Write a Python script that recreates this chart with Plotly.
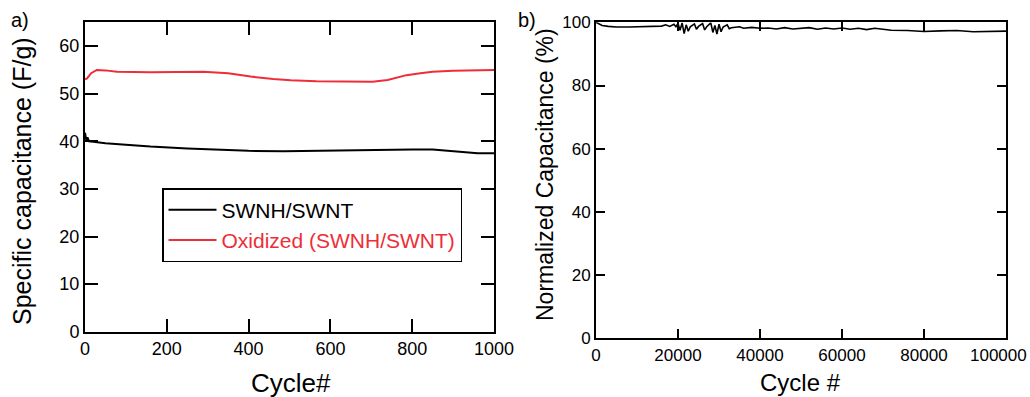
import plotly.graph_objects as go

# Panel a) specific capacitance vs cycle
cycles_a_black = [0, 3, 6, 10, 20, 50, 100, 160, 250, 320, 400, 486, 550, 650, 700, 800, 850, 880, 920, 960, 1000]
cap_swnh = [41.8, 40.3, 40.8, 40.0, 39.9, 39.6, 39.3, 38.9, 38.5, 38.2, 38.0, 37.9, 38.0, 38.2, 38.3, 38.3, 38.3, 38.1, 37.7, 37.5, 37.5]

cycles_a_red = [0, 5, 15, 29, 50, 78, 160, 290, 350, 405, 460, 503, 566, 650, 703, 740, 786, 820, 850, 900, 1000]
cap_oxidized = [53.0, 53.2, 54.3, 55.0, 54.9, 54.6, 54.5, 54.6, 54.3, 53.6, 53.1, 52.8, 52.6, 52.5, 52.5, 52.9, 53.9, 54.3, 54.6, 54.8, 55.0]

# Panel b) normalized capacitance vs cycle
cycles_b = [0, 500, 1500, 3000, 5000, 8000, 10000, 12000, 14000, 16000, 17000, 18000, 19000, 19500,
            20000, 20500, 21000, 21500, 22000, 22500, 23000, 24000, 24500, 25000, 26000, 26500, 27000,
            28000, 28500, 29000, 29500, 30000, 30500, 31000, 32000, 32500, 33000, 35000, 36000, 38000,
            40000, 42000, 44000, 46000, 48000, 50000, 52000, 54000, 56000, 58000, 60000, 62000, 64000,
            66000, 68000, 70000, 72000, 76000, 80000, 84000, 88000, 92000, 96000, 100000]
norm_cap = [100, 99.6, 99.0, 98.7, 98.5, 98.5, 98.6, 98.6, 98.7, 98.8, 99.2, 98.7, 99.4, 98.6,
            99.6, 97.5, 99.8, 96.4, 99.2, 97.2, 98.6, 99.5, 97.8, 98.7, 99.6, 97.6, 98.6,
            99.8, 96.8, 99.0, 96.3, 99.4, 97.0, 98.5, 99.2, 98.0, 98.3, 98.6, 98.1, 98.4,
            98.1, 98.2, 97.9, 98.3, 97.9, 98.0, 98.3, 97.8, 98.2, 97.9, 98.2, 97.8, 98.1,
            97.7, 98.1, 97.8, 97.5, 97.4, 97.1, 97.3, 97.4, 97.0, 97.1, 97.2]

xticks_a = [0, 200, 400, 600, 800, 1000]
yticks_a = [0, 10, 20, 30, 40, 50, 60]
xticks_b = [0, 20000, 40000, 60000, 80000, 100000]
yticks_b = [0, 20, 40, 60, 80, 100]

RED = "#ed2e38"
FONT = "Liberation Sans, Arial, Helvetica, sans-serif"
W, H = 1030, 397


def px(x):
    return x / W


def py(y):
    return 1 - y / H


fig = go.Figure()
fig.add_trace(go.Scatter(x=cycles_a_black, y=cap_swnh, mode="lines", name="SWNH/SWNT",
                         line=dict(color="black", width=2), xaxis="x", yaxis="y"))
fig.add_trace(go.Scatter(x=cycles_a_red, y=cap_oxidized, mode="lines",
                         name="<span style='color:%s'>Oxidized (SWNH/SWNT)</span>" % RED,
                         line=dict(color=RED, width=2), xaxis="x", yaxis="y"))
fig.add_trace(go.Scatter(x=cycles_b, y=norm_cap, mode="lines", showlegend=False,
                         line=dict(color="black", width=1.6), xaxis="x2", yaxis="y2"))

axis_common = dict(showline=True, linecolor="black", linewidth=2, mirror="ticks",
                   ticks="inside", tickcolor="black", tickwidth=2, showgrid=False,
                   zeroline=False, automargin=False)

# last x tick label of panel b is placed right-aligned so it stays inside the page
ticktext_b = [str(v) for v in xticks_b[:-1]] + [""]

fig.update_layout(
    width=W, height=H,
    margin=dict(l=0, r=0, t=0, b=0, autoexpand=False),
    paper_bgcolor="white", plot_bgcolor="white",
    font=dict(family=FONT, color="black"),
    xaxis=dict(domain=[px(85), px(494)], range=[0, 1000], tickvals=xticks_a,
               ticklen=13, tickfont=dict(size=18), anchor="y", **axis_common),
    yaxis=dict(domain=[py(331.7), py(22.3)], range=[0, 65], tickvals=yticks_a,
               ticklen=13, tickfont=dict(size=18), anchor="x", **axis_common),
    xaxis2=dict(domain=[px(596), px(1006)], range=[0, 100000], tickvals=xticks_b,
                ticktext=ticktext_b,
                ticklen=9, tickfont=dict(size=17), anchor="y2", **axis_common),
    yaxis2=dict(domain=[py(338.3), py(22.3)], range=[0, 100], tickvals=yticks_b,
                ticklen=9, tickfont=dict(size=17), anchor="x2", **axis_common),
    legend=dict(x=px(162), y=py(188), xanchor="left", yanchor="top",
                bordercolor="black", borderwidth=1.5, bgcolor="white",
                font=dict(size=21, family=FONT), tracegroupgap=0, itemwidth=48),
    annotations=[
        dict(text=str(xticks_b[-1]), x=1.0, y=py(355), xref="paper", yref="paper",
             showarrow=False, xanchor="right", yanchor="middle", font=dict(size=17),
             xshift=-1),
        dict(text="a)", x=px(9), y=py(20), xref="paper", yref="paper", showarrow=False,
             xanchor="left", yanchor="middle", font=dict(size=20)),
        dict(text="b)", x=px(516), y=py(20), xref="paper", yref="paper", showarrow=False,
             xanchor="left", yanchor="middle", font=dict(size=20)),
        dict(text="Specific capacitance (F/g)", x=px(22), y=py(181), xref="paper", yref="paper",
             showarrow=False, textangle=-90, xanchor="center", yanchor="middle",
             font=dict(size=25)),
        dict(text="Cycle#", x=px(291), y=py(383), xref="paper", yref="paper",
             showarrow=False, xanchor="center", yanchor="middle", font=dict(size=26)),
        dict(text="Normalized Capacitance (%)", x=px(545), y=py(175), xref="paper", yref="paper",
             showarrow=False, textangle=-90, xanchor="center", yanchor="middle",
             font=dict(size=23)),
        dict(text="Cycle #", x=px(800), y=py(382), xref="paper", yref="paper",
             showarrow=False, xanchor="center", yanchor="middle", font=dict(size=24)),
    ],
)

fig.write_html("out.html", config={"displayModeBar": False},
               post_script="document.body.style.margin='0';")
